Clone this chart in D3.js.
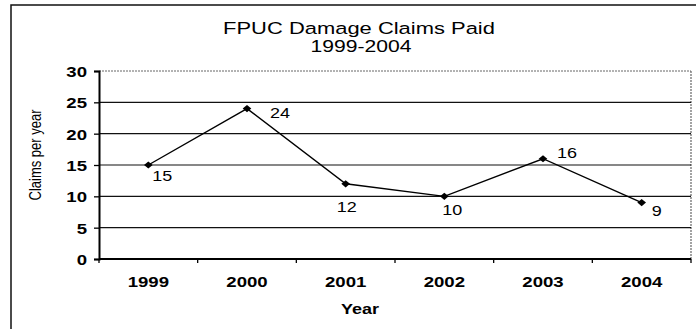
<!DOCTYPE html>
<html><head><meta charset="utf-8">
<script src="https://cdn.jsdelivr.net/npm/d3@7"></script>
<style>
html,body{margin:0;padding:0;background:#fff;}
svg{display:block;}
text{font-family:"Liberation Sans",Arial,sans-serif;fill:#000;}
</style></head><body>
<svg id="c" width="696" height="329"></svg>
<script>
const years = ["1999","2000","2001","2002","2003","2004"];
const claims = [15,24,12,10,16,9];
const yTicks = [0,5,10,15,20,25,30];
const titleLines = ["FPUC Damage Claims Paid","1999-2004"];
const xTitle = "Year";
const yTitle = "Claims per year";
// label offsets (style): dx to label centre, dy to label baseline
const labelOffsets = [[14,16],[33,9],[1,28],[8,19],[24,-1],[15,13]];

const svg = d3.select("#c");
const SX = 1.2; // horizontal stretch of the scanned picture
const M = {left:99, right:691, top:71, bottom:259};

const x = d3.scaleBand().domain(years).range([M.left, M.right]).padding(0);
const y = d3.scaleLinear().domain([0,30]).range([M.bottom, M.top]);

// outer frame (right/bottom fall outside the picture)
svg.append("rect").attr("x",11).attr("y",5).attr("width",720).attr("height",340)
  .attr("fill","none").attr("stroke","#111").attr("stroke-width",1.5);

function stext(txt, cx, by, size, weight, anchor, sx){
  svg.append("text").attr("transform",`translate(${cx},${by}) scale(${sx||SX},1)`)
    .attr("text-anchor",anchor||"middle")
    .style("font-size",size+"px").style("font-weight",weight||"normal").text(txt);
}

// title
stext(titleLines[0], 359, 33.5, 16.5, "normal", "middle", 1.33);
stext(titleLines[1], 361, 52, 16.5, "normal", "middle", 1.28);

// plot border top/right dotted
svg.append("line").attr("x1",M.left).attr("x2",M.right).attr("y1",y(30)).attr("y2",y(30))
  .attr("stroke","#666").attr("stroke-width",1).attr("stroke-dasharray","2,1");
svg.append("line").attr("x1",M.right).attr("x2",M.right).attr("y1",y(30)).attr("y2",y(0))
  .attr("stroke","#666").attr("stroke-width",1.2).attr("stroke-dasharray","2,1");

// gridlines
svg.append("g").selectAll("line").data(yTicks.filter(t=>t>0&&t<30)).join("line")
  .attr("x1",M.left).attr("x2",M.right).attr("y1",d=>y(d)).attr("y2",d=>y(d))
  .attr("stroke","#111").attr("stroke-width",1.2);

// y axis
const yAxis = d3.axisLeft(y).tickValues(yTicks).tickSize(5).tickFormat("");
const gy = svg.append("g").attr("transform",`translate(${M.left},0)`).call(yAxis);
gy.select(".domain").attr("stroke","#000").attr("stroke-width",2);
gy.selectAll(".tick line").attr("stroke","#000").attr("stroke-width",1.3);
yTicks.forEach(t=>stext(String(t), 87, y(t)+6, 15.5, "bold", "end"));

// x axis
const bounds = years.map(d=>x(d)).concat([M.right]);
svg.append("line").attr("x1",M.left).attr("x2",M.right).attr("y1",M.bottom).attr("y2",M.bottom)
  .attr("stroke","#000").attr("stroke-width",2);
svg.append("g").selectAll("line").data(bounds).join("line")
  .attr("x1",d=>d).attr("x2",d=>d).attr("y1",M.bottom).attr("y2",M.bottom+4)
  .attr("stroke","#000").attr("stroke-width",1.3);
years.forEach(d=>stext(d, x(d)+x.bandwidth()/2, 287, 15.5, "bold"));

// axis titles
stext(xTitle, 360, 314, 15, "bold");
svg.append("text").attr("transform",`translate(41,155) scale(${SX},1) rotate(-90)`)
  .attr("text-anchor","middle")
  .style("font-size","13px").text(yTitle);

// line
const cx = d => x(d)+x.bandwidth()/2;
const line = d3.line().x((d,i)=>cx(years[i])).y(d=>y(d));
svg.append("path").datum(claims).attr("d",line).attr("fill","none")
  .attr("stroke","#000").attr("stroke-width",1.4);

// markers
svg.append("g").selectAll("path").data(claims).join("path")
  .attr("d", d3.symbol().type(d3.symbolSquare).size(26))
  .attr("transform",(d,i)=>`translate(${cx(years[i])},${y(d)}) scale(${SX},1) rotate(45)`)
  .attr("fill","#000");

// data labels
claims.forEach((d,i)=>{
  stext(String(d), cx(years[i])+labelOffsets[i][0], y(d)+labelOffsets[i][1], 15, "normal");
});
</script>
</body></html>
